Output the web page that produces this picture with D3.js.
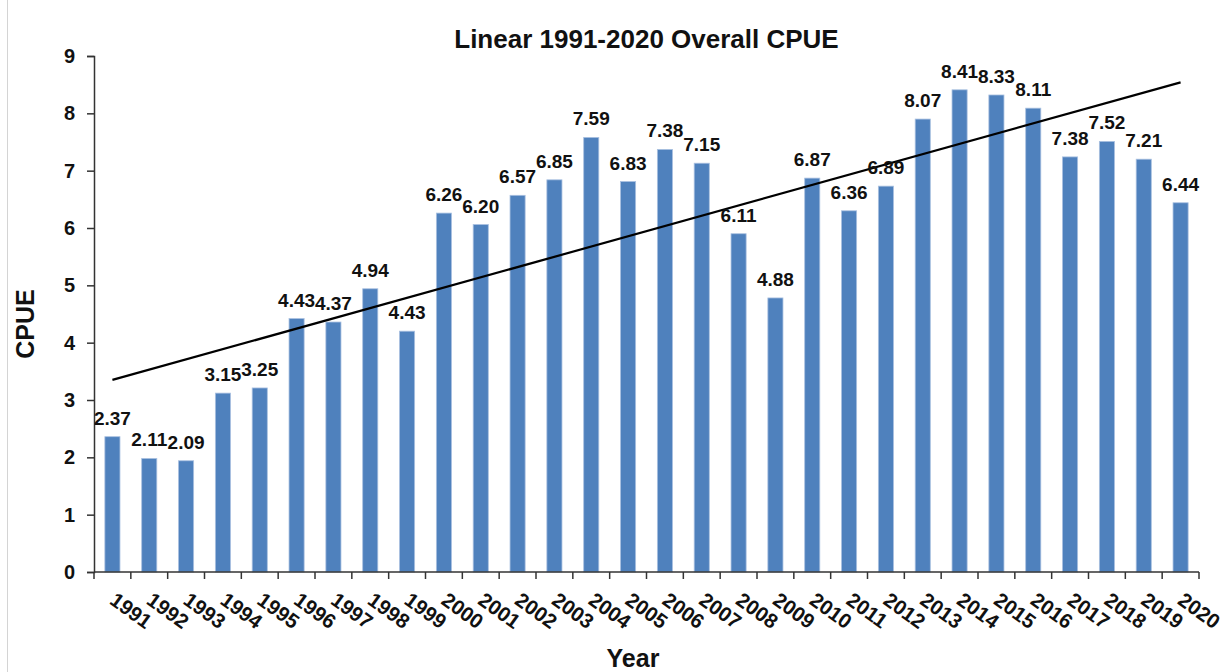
<!DOCTYPE html>
<html>
<head>
<meta charset="utf-8">
<script src="https://cdn.jsdelivr.net/npm/d3@7"></script>
<style>
  body { margin: 0; background: #fff; }
  svg { display: block; font-family: "Liberation Sans", Arial, sans-serif; }
</style>
</head>
<body>
<div id="chart"></div>
<script>
// Годы и значения CPUE (высоты столбцов)
const years = ["1991","1992","1993","1994","1995","1996","1997","1998","1999","2000",
               "2001","2002","2003","2004","2005","2006","2007","2008","2009","2010",
               "2011","2012","2013","2014","2015","2016","2017","2018","2019","2020"];
const cpue = [2.36, 1.98, 1.94, 3.12, 3.21, 4.42, 4.36, 4.94, 4.20, 6.26,
              6.06, 6.57, 6.84, 7.58, 6.81, 7.37, 7.13, 5.90, 4.78, 6.87,
              6.30, 6.73, 7.90, 8.41, 8.32, 8.09, 7.24, 7.51, 7.20, 6.44];
// Подписи над столбцами
const labels = ["2.37","2.11","2.09","3.15","3.25","4.43","4.37","4.94","4.43","6.26",
                "6.20","6.57","6.85","7.59","6.83","7.38","7.15","6.11","4.88","6.87",
                "6.36","6.89","8.07","8.41","8.33","8.11","7.38","7.52","7.21","6.44"];
// Линейный тренд: значения на первом и последнем годе
const trendEnds = [3.35, 8.54];
const yTicks = [0, 1, 2, 3, 4, 5, 6, 7, 8, 9];

const width = 1227;
const height = 672;
const margin = { top: 56, right: 28, bottom: 100, left: 94 };

const svg = d3.select("#chart")
    .append("svg")
    .attr("width", width)
    .attr("height", height);

// Серая рамка слева
svg.append("line")
    .attr("x1", 7.5).attr("x2", 7.5)
    .attr("y1", 0).attr("y2", height)
    .attr("stroke", "#d4d4d4")
    .attr("stroke-width", 1);

const x = d3.scaleBand()
    .domain(years)
    .range([margin.left, width - margin.right])
    .paddingInner(0.59)
    .paddingOuter(0.295);

const y = d3.scaleLinear()
    .domain([0, 9])
    .range([height - margin.bottom, margin.top]);

const baseY = y(0);

// Столбцы
svg.append("g")
    .selectAll("rect")
    .data(cpue)
    .enter()
    .append("rect")
    .attr("x", (d, i) => x(years[i]))
    .attr("y", d => y(d))
    .attr("width", x.bandwidth())
    .attr("height", d => baseY - y(d))
    .attr("fill", "#4f81bd")
    .attr("stroke", "#a9c0e0")
    .attr("stroke-width", 0.8);

// Ось Y
const yAxis = svg.append("g")
    .attr("transform", `translate(${margin.left},0)`)
    .call(d3.axisLeft(y).tickValues(yTicks).tickSize(7).tickPadding(12).tickFormat(d3.format("d")));
yAxis.select(".domain").attr("stroke", "#333").attr("stroke-width", 1.5);
yAxis.selectAll(".tick line").attr("stroke", "#333").attr("stroke-width", 1.5);
yAxis.selectAll(".tick text")
    .attr("font-size", "20px")
    .attr("font-weight", "bold")
    .attr("fill", "#111")
    .attr("font-family", "Liberation Sans, Arial, sans-serif");

// Ось X: линия и засечки на границах категорий
const xAxis = svg.append("g");
xAxis.append("line")
    .attr("x1", margin.left).attr("x2", width - margin.right)
    .attr("y1", baseY).attr("y2", baseY)
    .attr("stroke", "#333").attr("stroke-width", 1.5);
xAxis.selectAll(".edge")
    .data(d3.range(years.length + 1))
    .enter()
    .append("line")
    .attr("x1", i => margin.left + i * x.step())
    .attr("x2", i => margin.left + i * x.step())
    .attr("y1", baseY)
    .attr("y2", baseY + 7)
    .attr("stroke", "#333").attr("stroke-width", 1.5);

// Подписи годов под углом
xAxis.selectAll(".year")
    .data(years)
    .enter()
    .append("text")
    .attr("transform", d => `translate(${x(d) + x.bandwidth() / 2 - 4},${baseY + 31}) rotate(36)`)
    .attr("text-anchor", "start")
    .attr("font-size", "20.5px")
    .attr("font-weight", "bold")
    .attr("fill", "#111")
    .text(d => d);

// Линия тренда
svg.append("line")
    .attr("x1", x(years[0]) + x.bandwidth() / 2)
    .attr("y1", y(trendEnds[0]))
    .attr("x2", x(years[years.length - 1]) + x.bandwidth() / 2)
    .attr("y2", y(trendEnds[1]))
    .attr("stroke", "#000")
    .attr("stroke-width", 2.2);

// Подписи значений
svg.append("g")
    .selectAll("text")
    .data(labels)
    .enter()
    .append("text")
    .attr("x", (d, i) => x(years[i]) + x.bandwidth() / 2)
    .attr("y", (d, i) => y(cpue[i]) - 12)
    .attr("text-anchor", "middle")
    .attr("font-size", "19px")
    .attr("font-weight", "bold")
    .attr("fill", "#111")
    .text(d => d);

// Заголовок
svg.append("text")
    .attr("x", (margin.left + width - margin.right) / 2)
    .attr("y", 48)
    .attr("text-anchor", "middle")
    .attr("font-size", "26px")
    .attr("font-weight", "bold")
    .attr("fill", "#111")
    .text("Linear 1991-2020 Overall CPUE");

// Подписи осей
svg.append("text")
    .attr("transform", `translate(34,${(margin.top + baseY) / 2 + 10}) rotate(-90)`)
    .attr("text-anchor", "middle")
    .attr("font-size", "25px")
    .attr("font-weight", "bold")
    .attr("fill", "#111")
    .text("CPUE");

svg.append("text")
    .attr("x", 633)
    .attr("y", 667)
    .attr("text-anchor", "middle")
    .attr("font-size", "25px")
    .attr("font-weight", "bold")
    .attr("fill", "#111")
    .text("Year");
</script>
</body>
</html>
